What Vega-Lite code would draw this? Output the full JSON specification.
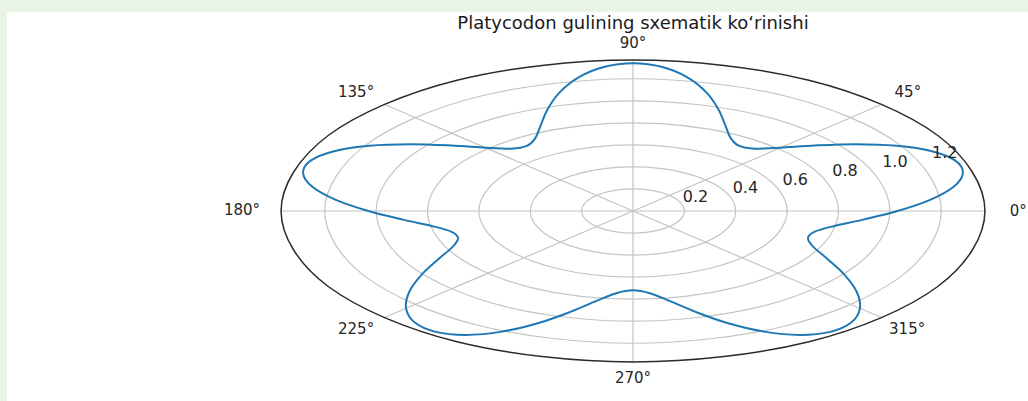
{
  "$schema": "https://vega.github.io/schema/vega-lite/v6.json",
  "width": 1021,
  "height": 389,
  "padding": {"left": 7, "top": 12, "right": 0, "bottom": 0},
  "autosize": {"type": "none"},
  "background": "#eaf4e5",
  "config": {"view": {"stroke": null, "fill": "#ffffff"}},
  "datasets": {
    "rings": [
      {"ring": 0.2, "i": 0, "x": 0.2, "y": 0}, {"ring": 0.2, "i": 1, "x": 0.1732, "y": 0.1}, {"ring": 0.2, "i": 2, "x": 0.1, "y": 0.1732}, {"ring": 0.2, "i": 3, "x": 0, "y": 0.2}, {"ring": 0.2, "i": 4, "x": -0.1, "y": 0.1732}, {"ring": 0.2, "i": 5, "x": -0.1732, "y": 0.1}, {"ring": 0.2, "i": 6, "x": -0.2, "y": 0}, {"ring": 0.2, "i": 7, "x": -0.1732, "y": -0.1}, {"ring": 0.2, "i": 8, "x": -0.1, "y": -0.1732}, {"ring": 0.2, "i": 9, "x": 0, "y": -0.2}, {"ring": 0.2, "i": 10, "x": 0.1, "y": -0.1732}, {"ring": 0.2, "i": 11, "x": 0.1732, "y": -0.1},
      {"ring": 0.4, "i": 0, "x": 0.4, "y": 0}, {"ring": 0.4, "i": 1, "x": 0.3464, "y": 0.2}, {"ring": 0.4, "i": 2, "x": 0.2, "y": 0.3464}, {"ring": 0.4, "i": 3, "x": 0, "y": 0.4}, {"ring": 0.4, "i": 4, "x": -0.2, "y": 0.3464}, {"ring": 0.4, "i": 5, "x": -0.3464, "y": 0.2}, {"ring": 0.4, "i": 6, "x": -0.4, "y": 0}, {"ring": 0.4, "i": 7, "x": -0.3464, "y": -0.2}, {"ring": 0.4, "i": 8, "x": -0.2, "y": -0.3464}, {"ring": 0.4, "i": 9, "x": 0, "y": -0.4}, {"ring": 0.4, "i": 10, "x": 0.2, "y": -0.3464}, {"ring": 0.4, "i": 11, "x": 0.3464, "y": -0.2},
      {"ring": 0.6, "i": 0, "x": 0.6, "y": 0}, {"ring": 0.6, "i": 1, "x": 0.5196, "y": 0.3}, {"ring": 0.6, "i": 2, "x": 0.3, "y": 0.5196}, {"ring": 0.6, "i": 3, "x": 0, "y": 0.6}, {"ring": 0.6, "i": 4, "x": -0.3, "y": 0.5196}, {"ring": 0.6, "i": 5, "x": -0.5196, "y": 0.3}, {"ring": 0.6, "i": 6, "x": -0.6, "y": 0}, {"ring": 0.6, "i": 7, "x": -0.5196, "y": -0.3}, {"ring": 0.6, "i": 8, "x": -0.3, "y": -0.5196}, {"ring": 0.6, "i": 9, "x": 0, "y": -0.6}, {"ring": 0.6, "i": 10, "x": 0.3, "y": -0.5196}, {"ring": 0.6, "i": 11, "x": 0.5196, "y": -0.3},
      {"ring": 0.8, "i": 0, "x": 0.8, "y": 0}, {"ring": 0.8, "i": 1, "x": 0.6928, "y": 0.4}, {"ring": 0.8, "i": 2, "x": 0.4, "y": 0.6928}, {"ring": 0.8, "i": 3, "x": 0, "y": 0.8}, {"ring": 0.8, "i": 4, "x": -0.4, "y": 0.6928}, {"ring": 0.8, "i": 5, "x": -0.6928, "y": 0.4}, {"ring": 0.8, "i": 6, "x": -0.8, "y": 0}, {"ring": 0.8, "i": 7, "x": -0.6928, "y": -0.4}, {"ring": 0.8, "i": 8, "x": -0.4, "y": -0.6928}, {"ring": 0.8, "i": 9, "x": 0, "y": -0.8}, {"ring": 0.8, "i": 10, "x": 0.4, "y": -0.6928}, {"ring": 0.8, "i": 11, "x": 0.6928, "y": -0.4},
      {"ring": 1.0, "i": 0, "x": 1.0, "y": 0}, {"ring": 1.0, "i": 1, "x": 0.866, "y": 0.5}, {"ring": 1.0, "i": 2, "x": 0.5, "y": 0.866}, {"ring": 1.0, "i": 3, "x": 0, "y": 1.0}, {"ring": 1.0, "i": 4, "x": -0.5, "y": 0.866}, {"ring": 1.0, "i": 5, "x": -0.866, "y": 0.5}, {"ring": 1.0, "i": 6, "x": -1.0, "y": 0}, {"ring": 1.0, "i": 7, "x": -0.866, "y": -0.5}, {"ring": 1.0, "i": 8, "x": -0.5, "y": -0.866}, {"ring": 1.0, "i": 9, "x": 0, "y": -1.0}, {"ring": 1.0, "i": 10, "x": 0.5, "y": -0.866}, {"ring": 1.0, "i": 11, "x": 0.866, "y": -0.5},
      {"ring": 1.2, "i": 0, "x": 1.2, "y": 0}, {"ring": 1.2, "i": 1, "x": 1.0392, "y": 0.6}, {"ring": 1.2, "i": 2, "x": 0.6, "y": 1.0392}, {"ring": 1.2, "i": 3, "x": 0, "y": 1.2}, {"ring": 1.2, "i": 4, "x": -0.6, "y": 1.0392}, {"ring": 1.2, "i": 5, "x": -1.0392, "y": 0.6}, {"ring": 1.2, "i": 6, "x": -1.2, "y": 0}, {"ring": 1.2, "i": 7, "x": -1.0392, "y": -0.6}, {"ring": 1.2, "i": 8, "x": -0.6, "y": -1.0392}, {"ring": 1.2, "i": 9, "x": 0, "y": -1.2}, {"ring": 1.2, "i": 10, "x": 0.6, "y": -1.0392}, {"ring": 1.2, "i": 11, "x": 1.0392, "y": -0.6}
    ],
    "outer": [
      {"i": 0, "x": 1.37, "y": 0}, {"i": 1, "x": 1.1864, "y": 0.685}, {"i": 2, "x": 0.685, "y": 1.1864}, {"i": 3, "x": 0, "y": 1.37}, {"i": 4, "x": -0.685, "y": 1.1864}, {"i": 5, "x": -1.1864, "y": 0.685}, {"i": 6, "x": -1.37, "y": 0}, {"i": 7, "x": -1.1864, "y": -0.685}, {"i": 8, "x": -0.685, "y": -1.1864}, {"i": 9, "x": 0, "y": -1.37}, {"i": 10, "x": 0.685, "y": -1.1864}, {"i": 11, "x": 1.1864, "y": -0.685}
    ],
    "spokes": [
      {"angle": 0, "x": 0, "y": 0, "x2": 1.37, "y2": 0},
      {"angle": 45, "x": 0, "y": 0, "x2": 0.9687, "y2": 0.9687},
      {"angle": 90, "x": 0, "y": 0, "x2": 0, "y2": 1.37},
      {"angle": 135, "x": 0, "y": 0, "x2": -0.9687, "y2": 0.9687},
      {"angle": 180, "x": 0, "y": 0, "x2": -1.37, "y2": 0},
      {"angle": 225, "x": 0, "y": 0, "x2": -0.9687, "y2": -0.9687},
      {"angle": 270, "x": 0, "y": 0, "x2": 0, "y2": -1.37},
      {"angle": 315, "x": 0, "y": 0, "x2": 0.9687, "y2": -0.9687}
    ],
    "flower": [
      {"i": 0, "x": 1.03, "y": 0}, {"i": 1, "x": 1.1566, "y": 0.1012}, {"i": 2, "x": 1.2482, "y": 0.22}, {"i": 3, "x": 1.2841, "y": 0.3441}, {"i": 4, "x": 1.2548, "y": 0.4567}, {"i": 5, "x": 1.1637, "y": 0.5426}, {"i": 6, "x": 1.0262, "y": 0.5925}, {"i": 7, "x": 0.8659, "y": 0.6063}, {"i": 8, "x": 0.7078, "y": 0.5939}, {"i": 9, "x": 0.5733, "y": 0.5733}, {"i": 10, "x": 0.4748, "y": 0.5658}, {"i": 11, "x": 0.4137, "y": 0.5908}, {"i": 12, "x": 0.3808, "y": 0.6595}, {"i": 13, "x": 0.3601, "y": 0.7723}, {"i": 14, "x": 0.3339, "y": 0.9173}, {"i": 15, "x": 0.2873, "y": 1.0723}, {"i": 16, "x": 0.2134, "y": 1.2106}, {"i": 17, "x": 0.1143, "y": 1.306},
      {"i": 18, "x": 0, "y": 1.34}, {"i": 19, "x": -0.1143, "y": 1.306}, {"i": 20, "x": -0.2134, "y": 1.2106}, {"i": 21, "x": -0.2873, "y": 1.0723}, {"i": 22, "x": -0.3339, "y": 0.9173}, {"i": 23, "x": -0.3601, "y": 0.7723}, {"i": 24, "x": -0.3808, "y": 0.6595}, {"i": 25, "x": -0.4137, "y": 0.5908}, {"i": 26, "x": -0.4748, "y": 0.5658}, {"i": 27, "x": -0.5733, "y": 0.5733}, {"i": 28, "x": -0.7078, "y": 0.5939}, {"i": 29, "x": -0.8659, "y": 0.6063}, {"i": 30, "x": -1.0262, "y": 0.5925}, {"i": 31, "x": -1.1637, "y": 0.5426}, {"i": 32, "x": -1.2548, "y": 0.4567}, {"i": 33, "x": -1.2841, "y": 0.3441}, {"i": 34, "x": -1.2482, "y": 0.22}, {"i": 35, "x": -1.1566, "y": 0.1012},
      {"i": 36, "x": -1.03, "y": 0}, {"i": 37, "x": -0.8956, "y": -0.0784}, {"i": 38, "x": -0.7805, "y": -0.1376}, {"i": 39, "x": -0.7057, "y": -0.1891}, {"i": 40, "x": -0.681, "y": -0.2479}, {"i": 41, "x": -0.7033, "y": -0.3279}, {"i": 42, "x": -0.7578, "y": -0.4375}, {"i": 43, "x": -0.8217, "y": -0.5753}, {"i": 44, "x": -0.8702, "y": -0.7302}, {"i": 45, "x": -0.8833, "y": -0.8833}, {"i": 46, "x": -0.8493, "y": -1.0121}, {"i": 47, "x": -0.7679, "y": -1.0967}, {"i": 48, "x": -0.6493, "y": -1.1245}, {"i": 49, "x": -0.5104, "y": -1.0946}, {"i": 50, "x": -0.3707, "y": -1.0185}, {"i": 51, "x": -0.2458, "y": -0.9174}, {"i": 52, "x": -0.1442, "y": -0.8181}, {"i": 53, "x": -0.0653, "y": -0.7462},
      {"i": 54, "x": 0, "y": -0.72}, {"i": 55, "x": 0.0653, "y": -0.7462}, {"i": 56, "x": 0.1442, "y": -0.8181}, {"i": 57, "x": 0.2458, "y": -0.9174}, {"i": 58, "x": 0.3707, "y": -1.0185}, {"i": 59, "x": 0.5104, "y": -1.0946}, {"i": 60, "x": 0.6493, "y": -1.1245}, {"i": 61, "x": 0.7679, "y": -1.0967}, {"i": 62, "x": 0.8493, "y": -1.0121}, {"i": 63, "x": 0.8833, "y": -0.8833}, {"i": 64, "x": 0.8702, "y": -0.7302}, {"i": 65, "x": 0.8217, "y": -0.5753}, {"i": 66, "x": 0.7578, "y": -0.4375}, {"i": 67, "x": 0.7033, "y": -0.3279}, {"i": 68, "x": 0.681, "y": -0.2479}, {"i": 69, "x": 0.7057, "y": -0.1891}, {"i": 70, "x": 0.7805, "y": -0.1376}, {"i": 71, "x": 0.8956, "y": -0.0784}
    ],
    "thetaLabels": [
      {"label": "0°", "x": 1.5, "y": 0},
      {"label": "45°", "x": 1.07, "y": 1.08},
      {"label": "90°", "x": 0, "y": 1.525},
      {"label": "135°", "x": -1.078, "y": 1.08},
      {"label": "180°", "x": -1.522, "y": 0.01},
      {"label": "225°", "x": -1.078, "y": -1.071},
      {"label": "270°", "x": 0, "y": -1.515},
      {"label": "315°", "x": 1.067, "y": -1.071}
    ],
    "rLabels": [
      {"label": "0.2", "x": 0.194, "y": 0.08},
      {"label": "0.4", "x": 0.388, "y": 0.16},
      {"label": "0.6", "x": 0.582, "y": 0.24},
      {"label": "0.8", "x": 0.776, "y": 0.32},
      {"label": "1.0", "x": 0.97, "y": 0.4},
      {"label": "1.2", "x": 1.164, "y": 0.48}
    ],
    "titleText": [
      {"text": "Platycodon gulining sxematik ko‘rinishi", "x": 0, "y": 1.65}
    ]
  },
  "encoding": {
    "x": {"field": "x", "type": "quantitative", "axis": null, "scale": {"domain": [-2.4368, 1.5376], "nice": false, "zero": false}},
    "y": {"field": "y", "type": "quantitative", "axis": null, "scale": {"domain": [-1.7241, 1.8058], "nice": false, "zero": false}}
  },
  "layer": [
    {
      "data": {"name": "rings"},
      "mark": {"type": "line", "interpolate": "cardinal-closed", "stroke": "#c4c4c4", "strokeWidth": 1.2},
      "encoding": {"detail": {"field": "ring", "type": "nominal"}, "order": {"field": "i", "type": "quantitative"}}
    },
    {
      "data": {"name": "spokes"},
      "mark": {"type": "rule", "stroke": "#c4c4c4", "strokeWidth": 1.2},
      "encoding": {"x2": {"field": "x2"}, "y2": {"field": "y2"}}
    },
    {
      "data": {"name": "outer"},
      "mark": {"type": "line", "interpolate": "cardinal-closed", "stroke": "#2b2b2b", "strokeWidth": 1.5},
      "encoding": {"order": {"field": "i", "type": "quantitative"}}
    },
    {
      "data": {"name": "flower"},
      "mark": {"type": "line", "interpolate": "cardinal-closed", "stroke": "#1f77b4", "strokeWidth": 2},
      "encoding": {"order": {"field": "i", "type": "quantitative"}}
    },
    {
      "data": {"name": "rLabels"},
      "mark": {"type": "text", "align": "left", "baseline": "alphabetic", "font": "DejaVu Sans", "fontSize": 16, "fill": "#262626"},
      "encoding": {"text": {"field": "label"}}
    },
    {
      "data": {"name": "thetaLabels"},
      "mark": {"type": "text", "align": "center", "baseline": "middle", "font": "DejaVu Sans", "fontSize": 15, "fill": "#262626"},
      "encoding": {"text": {"field": "label"}}
    },
    {
      "data": {"name": "titleText"},
      "mark": {"type": "text", "align": "center", "baseline": "alphabetic", "font": "DejaVu Sans", "fontSize": 18, "fill": "#1a1a1a"},
      "encoding": {"text": {"field": "text"}}
    }
  ]
}
